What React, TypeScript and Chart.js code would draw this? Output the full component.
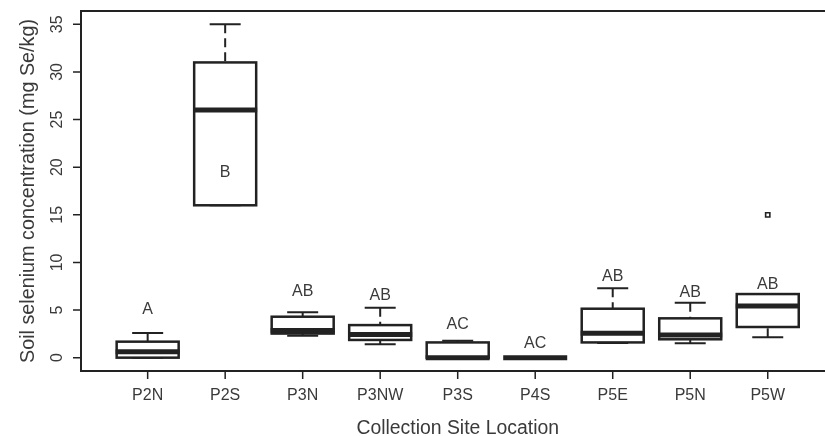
import { useEffect, useRef } from "react";
import { Chart, registerables } from "chart.js";

Chart.register(...registerables);

// ---- data ----
const sites = ["P2N", "P2S", "P3N", "P3NW", "P3S", "P4S", "P5E", "P5N", "P5W"];
const whiskerLow = [0, 16, 2.3, 1.4, 0, 0, 1.54, 1.51, 2.14];
const q1 = [0, 16, 2.53, 1.86, 0, 0, 1.6, 1.93, 3.22];
const median = [0.62, 26, 2.85, 2.42, 0, 0, 2.56, 2.38, 5.42];
const q3 = [1.68, 31, 4.3, 3.42, 1.6, 0, 5.14, 4.13, 6.68];
const whiskerHigh = [2.6, 35, 4.78, 5.25, 1.78, 0, 7.3, 5.77, 6.68];
const outlierSite = [9];
const outlierValue = [15];
const groupLetters = ["A", "B", "AB", "AB", "AC", "AC", "AB", "AB", "AB"];
const letterY = [5.1, 19.4, 6.9, 6.5, 3.5, 1.5, 8.5, 6.8, 7.7];
const yTicks = [0, 5, 10, 15, 20, 25, 30, 35];
const xTitle = "Collection Site Location";
const yTitle = "Soil selenium concentration (mg Se/kg)";

const LINE = "#222222";
const TEXT = "#3a3a3a";
const FONT = "'Liberation Sans', Arial, Helvetica, sans-serif";

const boxPlugin = {
  id: "rbox",
  beforeDatasetsDraw(chart: any) {
    const ctx = chart.ctx as CanvasRenderingContext2D;
    const xs = chart.scales.x;
    const ys = chart.scales.y;
    const area = chart.chartArea;
    ctx.save();
    ctx.lineCap = "butt";
    ctx.strokeStyle = LINE;

    sites.forEach((_, i) => {
      const xc = xs.getPixelForValue(i + 1);
      const xl = xs.getPixelForValue(i + 1 - 0.4);
      const xr = xs.getPixelForValue(i + 1 + 0.4);
      const sl = xs.getPixelForValue(i + 1 - 0.2);
      const sr = xs.getPixelForValue(i + 1 + 0.2);
      const yLo = ys.getPixelForValue(whiskerLow[i]);
      const yQ1 = ys.getPixelForValue(q1[i]);
      const yMed = ys.getPixelForValue(median[i]);
      const yQ3 = ys.getPixelForValue(q3[i]);
      const yHi = ys.getPixelForValue(whiskerHigh[i]);

      ctx.lineWidth = 2;
      ctx.setLineDash([9, 5]);
      ctx.beginPath();
      ctx.moveTo(xc, yHi);
      ctx.lineTo(xc, yQ3);
      ctx.moveTo(xc, yLo);
      ctx.lineTo(xc, yQ1);
      ctx.stroke();
      ctx.setLineDash([]);

      ctx.beginPath();
      ctx.moveTo(sl, yHi);
      ctx.lineTo(sr, yHi);
      ctx.moveTo(sl, yLo);
      ctx.lineTo(sr, yLo);
      ctx.stroke();

      ctx.fillStyle = "#ffffff";
      ctx.fillRect(xl, yQ3, xr - xl, yQ1 - yQ3);
      ctx.lineWidth = 2.5;
      ctx.strokeRect(xl, yQ3, xr - xl, yQ1 - yQ3);

      ctx.lineWidth = 5;
      ctx.beginPath();
      ctx.moveTo(xl - 1, yMed);
      ctx.lineTo(xr + 1, yMed);
      ctx.stroke();
    });

    ctx.lineWidth = 2;
    ctx.strokeRect(area.left, area.top, area.right - area.left, area.bottom - area.top);

    ctx.lineWidth = 1.5;
    ctx.beginPath();
    yTicks.forEach((v) => {
      const y = ys.getPixelForValue(v);
      ctx.moveTo(area.left - 8, y);
      ctx.lineTo(area.left, y);
    });
    sites.forEach((_, i) => {
      const x = xs.getPixelForValue(i + 1);
      ctx.moveTo(x, area.bottom);
      ctx.lineTo(x, area.bottom + 8);
    });
    ctx.stroke();

    ctx.fillStyle = TEXT;
    ctx.font = `16px ${FONT}`;
    yTicks.forEach((v) => {
      const y = ys.getPixelForValue(v);
      ctx.save();
      ctx.translate(area.left - 19.5, y);
      ctx.rotate(-Math.PI / 2);
      ctx.textAlign = "center";
      ctx.textBaseline = "alphabetic";
      ctx.fillText(String(v), 0, 0);
      ctx.restore();
    });
    ctx.textAlign = "center";
    ctx.textBaseline = "alphabetic";
    sites.forEach((s, i) => {
      ctx.fillText(s, xs.getPixelForValue(i + 1), area.bottom + 29);
    });
    ctx.textBaseline = "middle";
    groupLetters.forEach((s, i) => {
      ctx.fillText(s, xs.getPixelForValue(i + 1), ys.getPixelForValue(letterY[i]));
    });

    ctx.font = `19.4px ${FONT}`;
    ctx.textBaseline = "alphabetic";
    ctx.fillText(xTitle, (area.left + area.right) / 2, area.bottom + 63);
    ctx.save();
    ctx.translate(33.5, (area.top + area.bottom) / 2);
    ctx.rotate(-Math.PI / 2);
    ctx.textAlign = "center";
    ctx.font = `19.8px ${FONT}`;
    ctx.fillText(yTitle, 0, 0);
    ctx.restore();

    ctx.restore();
  },
};

export default function App() {
  const ref = useRef<HTMLCanvasElement | null>(null);
  useEffect(() => {
    if (!ref.current) return;
    const chart = new Chart(ref.current, {
      type: "scatter",
      data: {
        datasets: [
          {
            data: outlierSite.map((s, i) => ({ x: s, y: outlierValue[i] })),
            pointStyle: "rect",
            pointRadius: 3,
            pointBorderWidth: 1.6,
            pointBorderColor: LINE,
            pointBackgroundColor: "#ffffff",
          },
        ],
      },
      options: {
        animation: false,
        responsive: false,
        devicePixelRatio: 1,
        layout: { padding: { left: 81, top: 11, right: 3.5, bottom: 65 } },
        plugins: { legend: { display: false }, tooltip: { enabled: false } },
        scales: {
          x: { type: "linear", min: 0.14, max: 9.86, display: false },
          y: { type: "linear", min: -1.4, max: 36.4, display: false },
        },
      },
      plugins: [boxPlugin],
    });
    return () => chart.destroy();
  }, []);
  return (
    <div
      style={{
        position: "fixed",
        left: 0,
        top: 0,
        width: 825,
        height: 436,
        overflow: "hidden",
        background: "#fff",
      }}
    >
      <canvas ref={ref} width={840} height={436} style={{ display: "block" }} />
    </div>
  );
}
